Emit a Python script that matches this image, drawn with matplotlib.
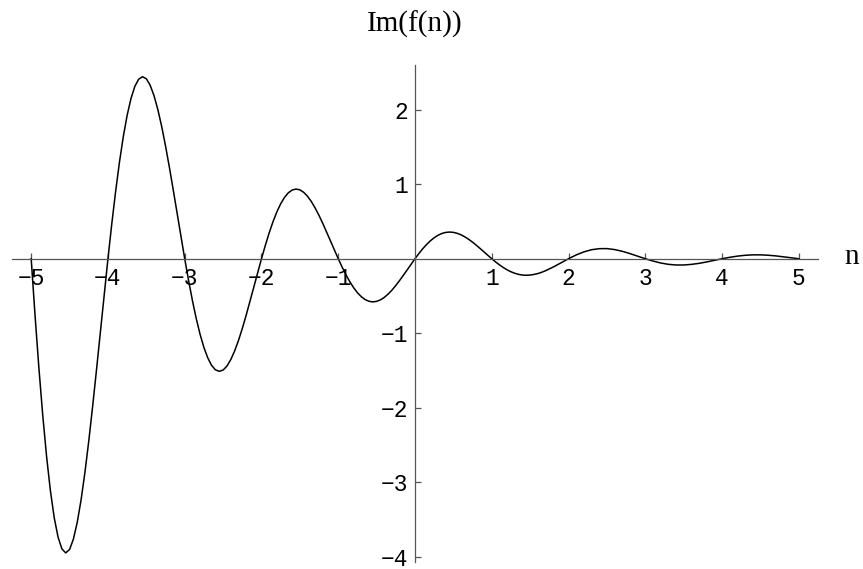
import matplotlib
matplotlib.use("Agg")
import matplotlib.pyplot as plt

# values of Im(f(n)): step 0.05 on [-5, 2], step 0.1 on (2, 5]
n_vals = [round(-5 + 0.05 * i, 2) for i in range(141)] + \
         [round(2.1 + 0.1 * i, 1) for i in range(30)]
im_vals = [
    0.0, -0.757, -1.461, -2.096, -2.649, -3.111, -3.475, -3.736, -3.894, -3.948,
    -3.902, -3.763, -3.537, -3.235, -2.868, -2.447, -1.986, -1.498, -0.995, -0.492,
    0.0, 0.469, 0.904, 1.297, 1.639, 1.925, 2.150, 2.312, 2.409, 2.443,
    2.415, 2.328, 2.189, 2.002, 1.775, 1.514, 1.229, 0.927, 0.616, 0.304,
    0.0, -0.290, -0.559, -0.802, -1.014, -1.191, -1.330, -1.431, -1.491, -1.511,
    -1.494, -1.441, -1.354, -1.239, -1.098, -0.937, -0.760, -0.573, -0.381, -0.188,
    0.0, 0.179, 0.346, 0.496, 0.628, 0.737, 0.823, 0.885, 0.922, 0.935,
    0.925, 0.891, 0.838, 0.767, 0.679, 0.580, 0.471, 0.355, 0.236, 0.117,
    0.0, -0.111, -0.214, -0.307, -0.388, -0.456, -0.509, -0.548, -0.571, -0.579,
    -0.572, -0.552, -0.519, -0.474, -0.421, -0.359, -0.291, -0.220, -0.146, -0.072,
    0.0, 0.069, 0.133, 0.190, 0.240, 0.282, 0.315, 0.339, 0.353, 0.358,
    0.354, 0.341, 0.321, 0.293, 0.260, 0.222, 0.180, 0.136, 0.090, 0.045,
    0.0, -0.043, -0.082, -0.118, -0.149, -0.175, -0.195, -0.210, -0.219, -0.222,
    -0.219, -0.211, -0.199, -0.182, -0.161, -0.137, -0.112, -0.084, -0.056, -0.028,
    0.0,
    0.051, 0.092, 0.121, 0.135, 0.136, 0.123, 0.100, 0.069, 0.035, 0.0,
    -0.031, -0.057, -0.075, -0.084, -0.084, -0.076, -0.062, -0.043, -0.021, 0.0,
    0.019, 0.035, 0.046, 0.052, 0.052, 0.047, 0.038, 0.026, 0.013, 0.0,
]
x_ticks = [-5, -4, -3, -2, -1, 1, 2, 3, 4, 5]
y_ticks = [-4, -3, -2, -1, 1, 2]

plt.rcParams['font.family'] = ['Liberation Mono', 'DejaVu Sans']
axis_col = '#555555'

fig = plt.figure(figsize=(8.63, 5.69), dpi=100)
ax = fig.add_axes([12 / 863, 7 / 569, 806 / 863, 497 / 569])
ax.plot(n_vals, im_vals, color='black', lw=1.1)

ax.set_xlim(-5.25, 5.25)
ax.set_ylim(-4.07, 2.6)
for s in ['top', 'right']:
    ax.spines[s].set_visible(False)
for s in ['left', 'bottom']:
    ax.spines[s].set_position(('data', 0))
    ax.spines[s].set_color(axis_col)
    ax.spines[s].set_linewidth(0.9)

ax.set_xticks(x_ticks)
ax.set_yticks(y_ticks)
ax.tick_params(direction='in', length=4, width=0.9, color=axis_col,
               labelsize=16.5, labelcolor='black')
ax.tick_params(axis='x', pad=6)
ax.tick_params(axis='y', pad=5)

ax.text(0, 3.14, 'Im(f(n))', ha='center', va='center', fontsize=21,
        family='Liberation Serif', clip_on=False)
ax.text(5.69, 0.02, 'n', ha='center', va='center', fontsize=21,
        family='Liberation Serif', clip_on=False)

fig.savefig('out.png', dpi=100)
